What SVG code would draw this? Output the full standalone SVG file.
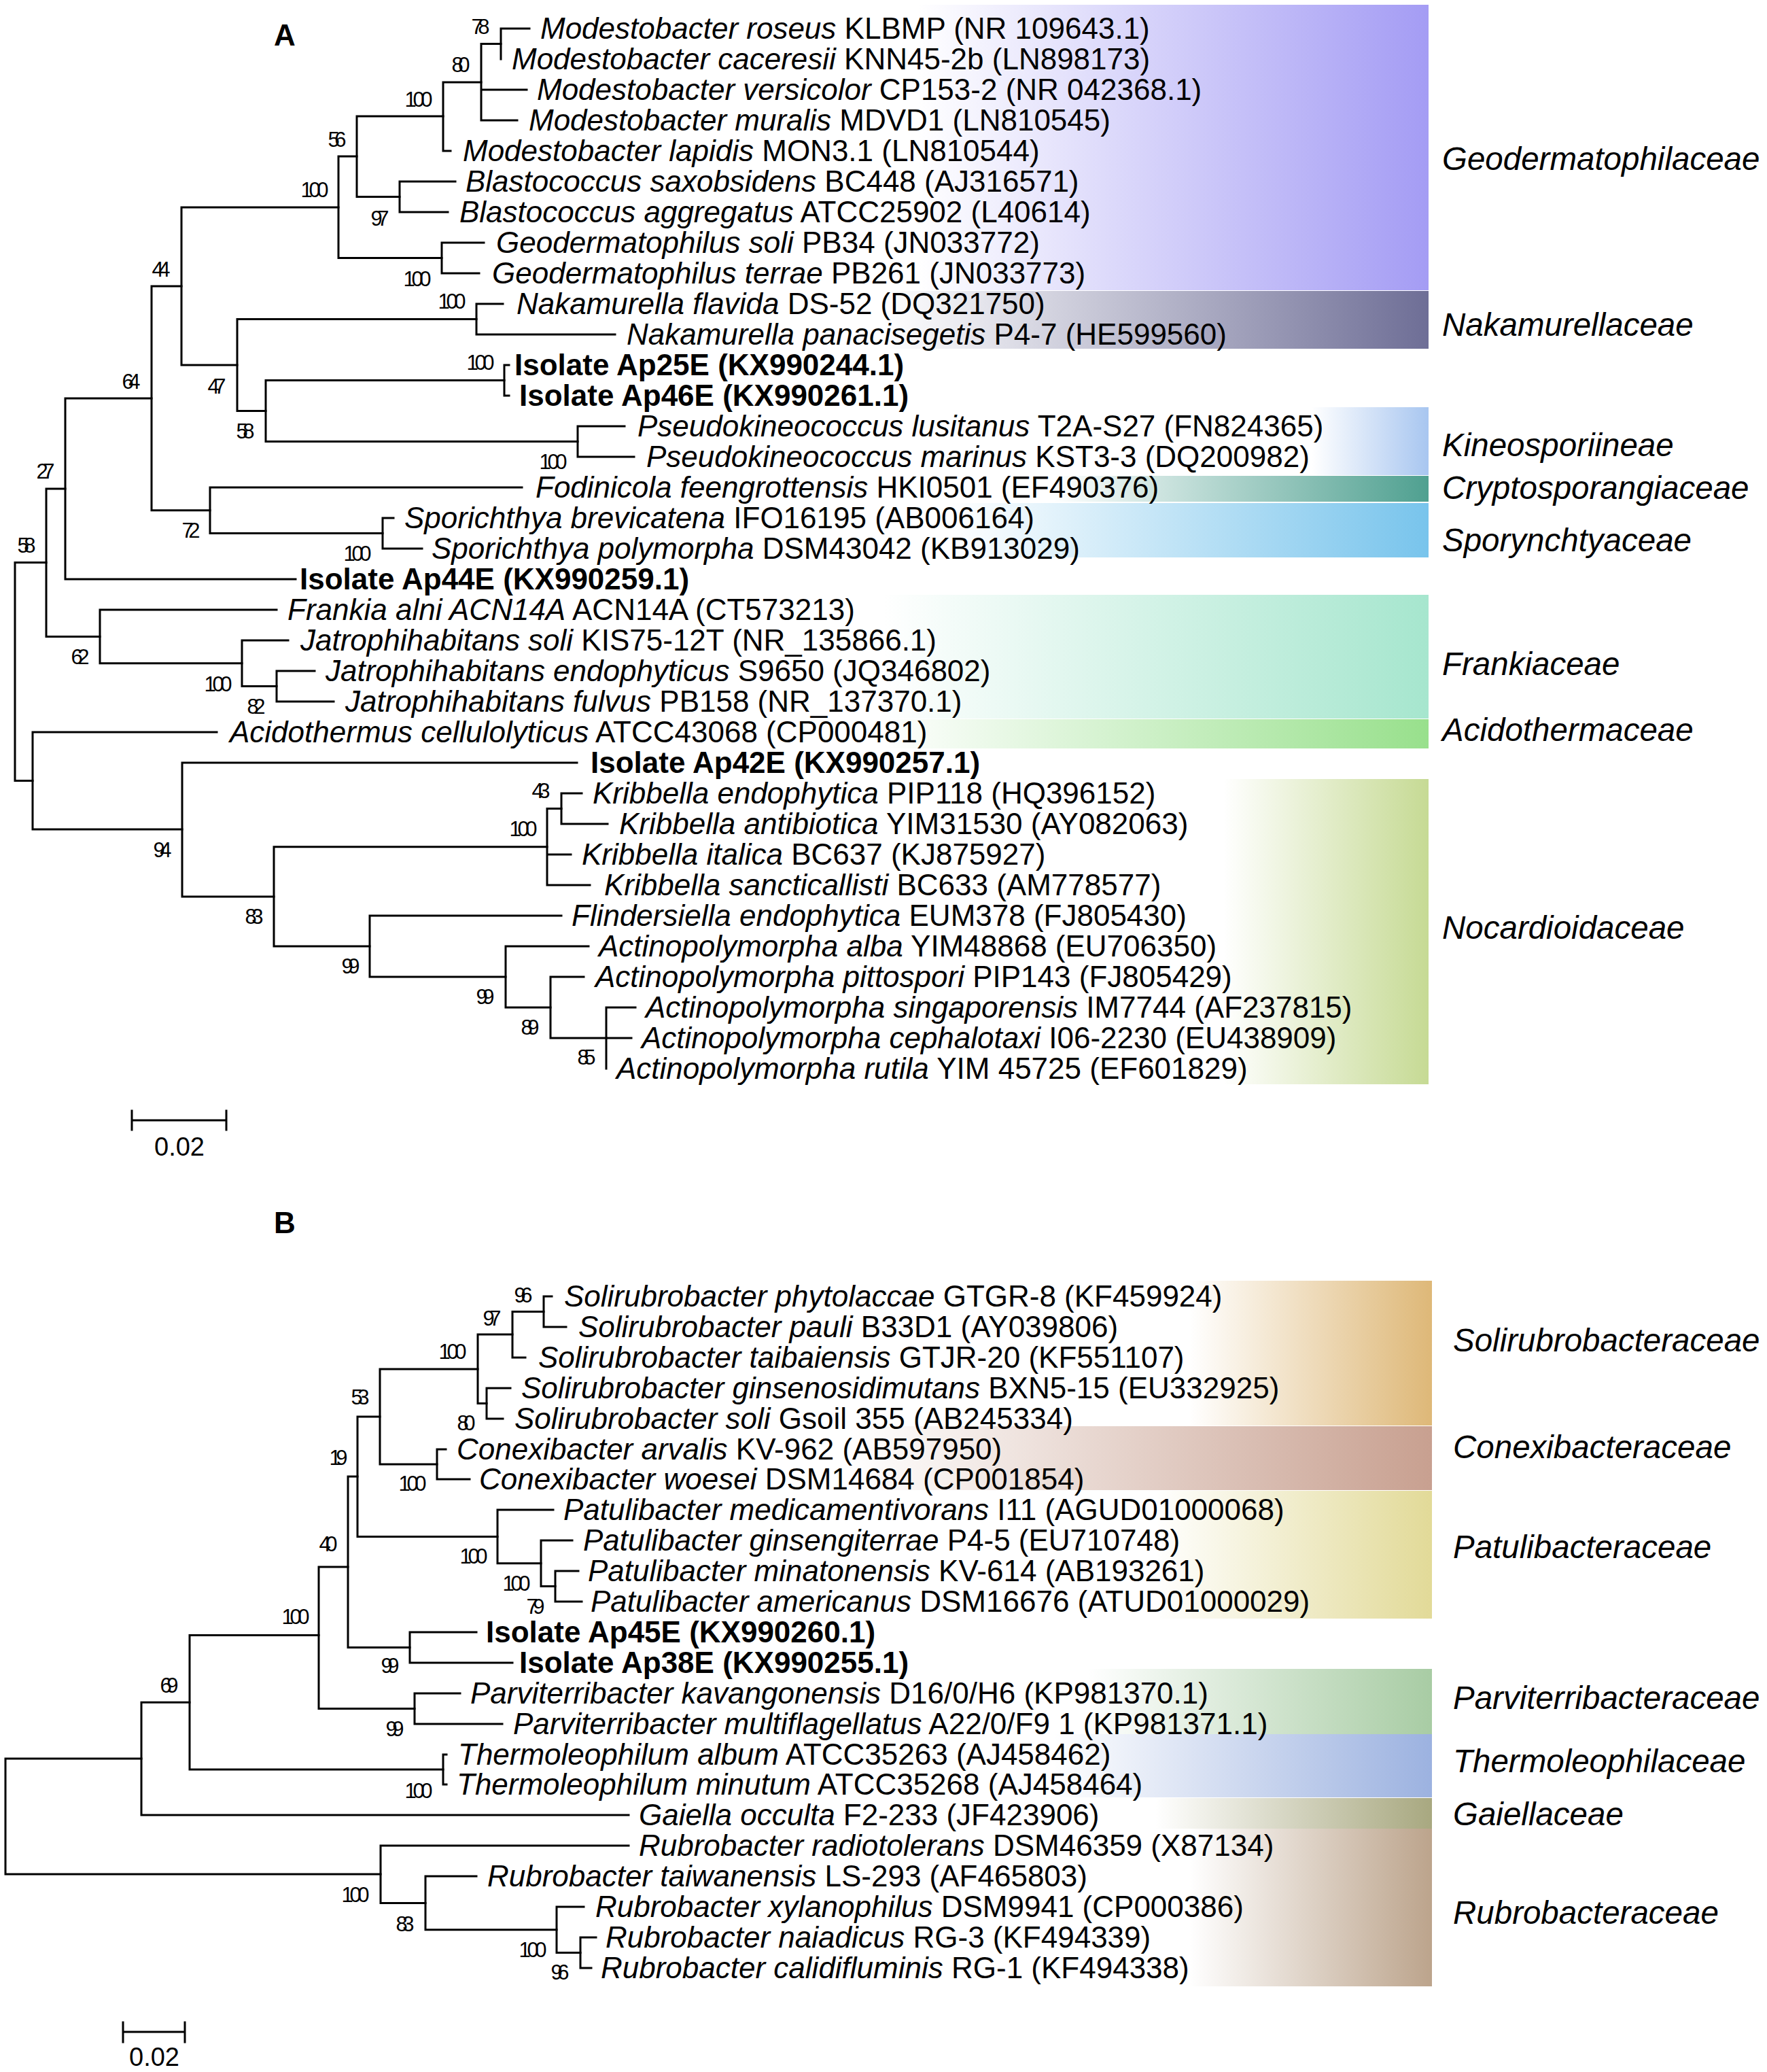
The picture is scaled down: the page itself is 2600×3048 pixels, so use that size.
<svg xmlns="http://www.w3.org/2000/svg" width="2600" height="3048" viewBox="0 0 2600 3048">
<style>
.br{stroke:#000;stroke-width:3;fill:none;stroke-linecap:square}
text{font-family:"Liberation Sans",Arial,sans-serif;fill:#000}
.lf{font-size:44px}
.it{font-style:italic}
.bd{font-weight:bold}
.bs{font-size:31px;text-anchor:middle}
.fam{font-size:47.5px;font-style:italic}
.pl{font-size:44px;font-weight:bold}
.sc{font-size:38px;text-anchor:middle}
</style>
<defs>
<linearGradient id="gGeo"><stop offset="0" stop-color="#A49CF4" stop-opacity="0"/><stop offset="1" stop-color="#A49CF4"/></linearGradient>
<linearGradient id="gNak"><stop offset="0" stop-color="#6E6E96" stop-opacity="0"/><stop offset="1" stop-color="#6E6E96"/></linearGradient>
<linearGradient id="gKin"><stop offset="0" stop-color="#A8C6F0" stop-opacity="0"/><stop offset="1" stop-color="#A8C6F0"/></linearGradient>
<linearGradient id="gCry"><stop offset="0" stop-color="#4FA090" stop-opacity="0"/><stop offset="1" stop-color="#4FA090"/></linearGradient>
<linearGradient id="gSpo"><stop offset="0" stop-color="#78C4EC" stop-opacity="0"/><stop offset="1" stop-color="#78C4EC"/></linearGradient>
<linearGradient id="gFra"><stop offset="0" stop-color="#A6E6CE" stop-opacity="0"/><stop offset="1" stop-color="#A6E6CE"/></linearGradient>
<linearGradient id="gAci"><stop offset="0" stop-color="#98E08C" stop-opacity="0"/><stop offset="1" stop-color="#98E08C"/></linearGradient>
<linearGradient id="gNoc"><stop offset="0" stop-color="#C6DA94" stop-opacity="0"/><stop offset="1" stop-color="#C6DA94"/></linearGradient>
<linearGradient id="gSol"><stop offset="0" stop-color="#DEB878" stop-opacity="0"/><stop offset="1" stop-color="#DEB878"/></linearGradient>
<linearGradient id="gCon"><stop offset="0" stop-color="#C8A090" stop-opacity="0"/><stop offset="1" stop-color="#C8A090"/></linearGradient>
<linearGradient id="gPat"><stop offset="0" stop-color="#E2DA98" stop-opacity="0"/><stop offset="1" stop-color="#E2DA98"/></linearGradient>
<linearGradient id="gPar"><stop offset="0" stop-color="#A8CCA4" stop-opacity="0"/><stop offset="1" stop-color="#A8CCA4"/></linearGradient>
<linearGradient id="gThe"><stop offset="0" stop-color="#9CB2E0" stop-opacity="0"/><stop offset="1" stop-color="#9CB2E0"/></linearGradient>
<linearGradient id="gGai"><stop offset="0" stop-color="#A8A880" stop-opacity="0"/><stop offset="1" stop-color="#A8A880"/></linearGradient>
<linearGradient id="gRub"><stop offset="0" stop-color="#BCA48C" stop-opacity="0"/><stop offset="1" stop-color="#BCA48C"/></linearGradient>
</defs>
<rect width="2600" height="3048" fill="#fff"/>

<g id="bands">
<rect x="1350" y="7" width="752" height="420" fill="url(#gGeo)"/>
<rect x="1300" y="428" width="802" height="85" fill="url(#gNak)"/>
<rect x="1930" y="599" width="172" height="100" fill="url(#gKin)"/>
<rect x="1550" y="700" width="552" height="38" fill="url(#gCry)"/>
<rect x="1400" y="740" width="702" height="80" fill="url(#gSpo)"/>
<rect x="1300" y="875" width="802" height="182" fill="url(#gFra)"/>
<rect x="1300" y="1058" width="802" height="43" fill="url(#gAci)"/>
<rect x="1800" y="1146" width="302" height="449" fill="url(#gNoc)"/>
<rect x="1750" y="1884" width="357" height="213" fill="url(#gSol)"/>
<rect x="1250" y="2098" width="857" height="94" fill="url(#gCon)"/>
<rect x="1700" y="2193" width="407" height="188" fill="url(#gPat)"/>
<rect x="1600" y="2455" width="507" height="96" fill="url(#gPar)"/>
<rect x="1550" y="2551" width="557" height="93" fill="url(#gThe)"/>
<rect x="1700" y="2645" width="407" height="45" fill="url(#gGai)"/>
<rect x="1750" y="2690" width="357" height="232" fill="url(#gRub)"/>
</g>

<g id="connectors" class="br">
<path d="M737,42 V87 M737,42 H779"/>
<path d="M708,64.5 V177 M708,64.5 H737 M708,132 H775 M708,177 H761"/>
<path d="M652,121 V222 M652,121 H708 M652,222 H663"/>
<path d="M588,267 V312 M588,267 H670 M588,312 H659"/>
<path d="M525,171 V289.5 M525,171 H652 M525,289.5 H588"/>
<path d="M650,357 V402 M650,357 H712 M650,402 H705"/>
<path d="M498,230 V379.5 M498,230 H525 M498,379.5 H650"/>
<path d="M701,447 V492 M701,447 H740 M701,492 H905"/>
<path d="M742,537 V582 M742,537 H749 M742,582 H749"/>
<path d="M850,627 V672 M850,627 H919 M850,672 H933"/>
<path d="M391,559.5 V649.5 M391,559.5 H742 M391,649.5 H850"/>
<path d="M349,469.5 V604.5 M349,469.5 H701 M349,604.5 H391"/>
<path d="M267,305 V537 M267,305 H498 M267,537 H349"/>
<path d="M563,762 V807 M563,762 H579 M563,807 H621"/>
<path d="M309,717 V784.5 M309,717 H768 M309,784.5 H563"/>
<path d="M223,421 V750.75 M223,421 H267 M223,750.75 H309"/>
<path d="M96,586 V852 M96,586 H223 M96,852 H435"/>
<path d="M407,987 V1032 M407,987 H463 M407,1032 H491"/>
<path d="M356,942 V1009.5 M356,942 H424 M356,1009.5 H407"/>
<path d="M147,897 V975.75 M147,897 H407 M147,975.75 H356"/>
<path d="M68,719 V936.4 M68,719 H96 M68,936.4 H147"/>
<path d="M826,1167 V1212 M826,1167 H856 M826,1212 H894"/>
<path d="M805,1189.5 V1302 M805,1189.5 H826 M805,1257 H840 M805,1302 H868"/>
<path d="M892,1482 V1572 M892,1482 H935 M892,1527 H929"/>
<path d="M810,1437 V1527 M810,1437 H859 M810,1527 H892"/>
<path d="M744,1392 V1482 M744,1392 H866 M744,1482 H810"/>
<path d="M544,1347 V1437 M544,1347 H826 M544,1437 H744"/>
<path d="M403,1245.75 V1392 M403,1245.75 H805 M403,1392 H544"/>
<path d="M268,1122 V1318.9 M268,1122 H849 M268,1318.9 H403"/>
<path d="M48,1077 V1220 M48,1077 H319 M48,1220 H268"/>
<path d="M22,827.6 V1148.5 M22,827.6 H68 M22,1148.5 H48"/>
<path d="M194,1648 H333 M194,1634 V1662 M333,1634 V1662"/>

<path d="M800,1907 V1952 M800,1907 H812 M800,1952 H833"/>
<path d="M754,1929.5 V1997 M754,1929.5 H800 M754,1997 H773"/>
<path d="M716,2042 V2087 M716,2042 H751 M716,2087 H740"/>
<path d="M703,1963 V2064.5 M703,1963 H754 M703,2064.5 H716"/>
<path d="M643,2132 V2176 M643,2132 H656 M643,2176 H691"/>
<path d="M559,2014 V2154 M559,2014 H703 M559,2154 H643"/>
<path d="M817,2311 V2356 M817,2311 H851 M817,2356 H856"/>
<path d="M796,2266 V2333.5 M796,2266 H842 M796,2333.5 H817"/>
<path d="M732,2221 V2299.75 M732,2221 H814 M732,2299.75 H796"/>
<path d="M526,2084 V2260.4 M526,2084 H559 M526,2260.4 H732"/>
<path d="M603,2401 V2446 M603,2401 H701 M603,2446 H754"/>
<path d="M512,2172 V2423.5 M512,2172 H526 M512,2423.5 H603"/>
<path d="M610,2491 V2536 M610,2491 H677 M610,2536 H739"/>
<path d="M469,2305 V2513.5 M469,2305 H512 M469,2513.5 H610"/>
<path d="M652,2581 V2625 M652,2581 H657 M652,2625 H657"/>
<path d="M279,2405.6 V2603 M279,2405.6 H469 M279,2603 H652"/>
<path d="M208,2504.3 V2670 M208,2504.3 H279 M208,2670 H925"/>
<path d="M854,2850 V2895 M854,2850 H877 M854,2895 H870"/>
<path d="M819,2805 V2872.5 M819,2805 H859 M819,2872.5 H854"/>
<path d="M626,2760 V2838.75 M626,2760 H701 M626,2838.75 H819"/>
<path d="M560,2715 V2799.4 M560,2715 H925 M560,2799.4 H626"/>
<path d="M8,2587 V2757 M8,2587 H208 M8,2757 H560"/>
<path d="M181,2989 H272 M181,2975 V3004 M272,2975 V3004"/>
</g>

<g id="panel-labels">
<text class="pl" x="403" y="67">A</text>
<text class="pl" x="403" y="1814">B</text>
<text class="sc" x="264" y="1700">0.02</text>
<text class="sc" x="227" y="3039">0.02</text>
</g>

<g id="bootstrap">
<g id="bsA"><text class="bs" x="707" y="50" textLength="27">78</text>
<text class="bs" x="678" y="106" textLength="27">80</text>
<text class="bs" x="616" y="157" textLength="41">100</text>
<text class="bs" x="496" y="216" textLength="27">56</text>
<text class="bs" x="463" y="290" textLength="41">100</text>
<text class="bs" x="559" y="332" textLength="27">97</text>
<text class="bs" x="614" y="421" textLength="41">100</text>
<text class="bs" x="237" y="407" textLength="27">44</text>
<text class="bs" x="665" y="454" textLength="41">100</text>
<text class="bs" x="707" y="544" textLength="41">100</text>
<text class="bs" x="319" y="579" textLength="27">47</text>
<text class="bs" x="193" y="572" textLength="27">64</text>
<text class="bs" x="361" y="645" textLength="27">58</text>
<text class="bs" x="814" y="690" textLength="41">100</text>
<text class="bs" x="67" y="704" textLength="27">27</text>
<text class="bs" x="281" y="791" textLength="27">72</text>
<text class="bs" x="39" y="813" textLength="27">58</text>
<text class="bs" x="526" y="825" textLength="41">100</text>
<text class="bs" x="118" y="977" textLength="27">62</text>
<text class="bs" x="321" y="1017" textLength="41">100</text>
<text class="bs" x="377" y="1050" textLength="27">82</text>
<text class="bs" x="239" y="1261" textLength="27">94</text>
<text class="bs" x="796" y="1174" textLength="27">43</text>
<text class="bs" x="770" y="1230" textLength="41">100</text>
<text class="bs" x="374" y="1359" textLength="27">83</text>
<text class="bs" x="516" y="1432" textLength="27">99</text>
<text class="bs" x="714" y="1477" textLength="27">99</text>
<text class="bs" x="780" y="1522" textLength="27">89</text>
<text class="bs" x="863" y="1566" textLength="27">85</text></g>
<g id="bsB"><text class="bs" x="770" y="1916" textLength="27">96</text>
<text class="bs" x="724" y="1950" textLength="27">97</text>
<text class="bs" x="666" y="1999" textLength="41">100</text>
<text class="bs" x="530" y="2066" textLength="27">53</text>
<text class="bs" x="686" y="2104" textLength="27">80</text>
<text class="bs" x="498" y="2155" textLength="27">19</text>
<text class="bs" x="607" y="2193" textLength="41">100</text>
<text class="bs" x="483" y="2282" textLength="27">40</text>
<text class="bs" x="697" y="2300" textLength="41">100</text>
<text class="bs" x="760" y="2340" textLength="41">100</text>
<text class="bs" x="788" y="2374" textLength="27">79</text>
<text class="bs" x="435" y="2389" textLength="41">100</text>
<text class="bs" x="574" y="2461" textLength="27">99</text>
<text class="bs" x="249" y="2490" textLength="27">69</text>
<text class="bs" x="581" y="2554" textLength="27">99</text>
<text class="bs" x="616" y="2645" textLength="41">100</text>
<text class="bs" x="523" y="2798" textLength="41">100</text>
<text class="bs" x="596" y="2841" textLength="27">83</text>
<text class="bs" x="784" y="2879" textLength="41">100</text>
<text class="bs" x="824" y="2912" textLength="27">96</text></g>
</g>

<g id="leavesA">
<g id="a01"><text class="lf" x="795" y="57"><tspan class="it">Modestobacter roseus</tspan> KLBMP (NR 109643.1)</text></g>
<g id="a02"><text class="lf" x="753" y="102"><tspan class="it">Modestobacter caceresii</tspan> KNN45-2b (LN898173)</text></g>
<g id="a03"><text class="lf" x="790" y="147"><tspan class="it">Modestobacter versicolor</tspan> CP153-2 (NR 042368.1)</text></g>
<g id="a04"><text class="lf" x="778" y="192"><tspan class="it">Modestobacter muralis</tspan> MDVD1 (LN810545)</text></g>
<g id="a05"><text class="lf" x="681" y="237"><tspan class="it">Modestobacter lapidis</tspan> MON3.1 (LN810544)</text></g>
<g id="a06"><text class="lf" x="685" y="282"><tspan class="it">Blastococcus saxobsidens</tspan> BC448 (AJ316571)</text></g>
<g id="a07"><text class="lf" x="676" y="327"><tspan class="it">Blastococcus aggregatus</tspan> ATCC25902 (L40614)</text></g>
<g id="a08"><text class="lf" x="730" y="372"><tspan class="it">Geodermatophilus soli</tspan> PB34 (JN033772)</text></g>
<g id="a09"><text class="lf" x="724" y="417"><tspan class="it">Geodermatophilus terrae</tspan> PB261 (JN033773)</text></g>
<g id="a10"><text class="lf" x="760" y="462"><tspan class="it">Nakamurella flavida</tspan> DS-52 (DQ321750)</text></g>
<g id="a11"><text class="lf" x="922" y="507"><tspan class="it">Nakamurella panacisegetis</tspan> P4-7 (HE599560)</text></g>
<g id="a12"><text class="lf bd" x="757" y="552">Isolate Ap25E (KX990244.1)</text></g>
<g id="a13"><text class="lf bd" x="764" y="597">Isolate Ap46E (KX990261.1)</text></g>
<g id="a14"><text class="lf" x="938" y="642"><tspan class="it">Pseudokineococcus lusitanus</tspan> T2A-S27 (FN824365)</text></g>
<g id="a15"><text class="lf" x="951" y="687"><tspan class="it">Pseudokineococcus marinus</tspan> KST3-3 (DQ200982)</text></g>
<g id="a16"><text class="lf" x="788" y="732"><tspan class="it">Fodinicola feengrottensis</tspan> HKI0501 (EF490376)</text></g>
<g id="a17"><text class="lf" x="595" y="777"><tspan class="it">Sporichthya brevicatena</tspan> IFO16195 (AB006164)</text></g>
<g id="a18"><text class="lf" x="635" y="822"><tspan class="it">Sporichthya polymorpha</tspan> DSM43042 (KB913029)</text></g>
<g id="a19"><text class="lf bd" x="441" y="867">Isolate Ap44E (KX990259.1)</text></g>
<g id="a20"><text class="lf" x="423" y="912"><tspan class="it">Frankia alni ACN14A</tspan> ACN14A (CT573213)</text></g>
<g id="a21"><text class="lf" x="442" y="957"><tspan class="it">Jatrophihabitans soli</tspan> KIS75-12T (NR_135866.1)</text></g>
<g id="a22"><text class="lf" x="479" y="1002"><tspan class="it">Jatrophihabitans endophyticus</tspan> S9650 (JQ346802)</text></g>
<g id="a23"><text class="lf" x="508" y="1047"><tspan class="it">Jatrophihabitans fulvus</tspan> PB158 (NR_137370.1)</text></g>
<g id="a24"><text class="lf" x="338" y="1092"><tspan class="it">Acidothermus cellulolyticus</tspan> ATCC43068 (CP000481)</text></g>
<g id="a25"><text class="lf bd" x="869" y="1137">Isolate Ap42E (KX990257.1)</text></g>
<g id="a26"><text class="lf" x="872" y="1182"><tspan class="it">Kribbella endophytica</tspan> PIP118 (HQ396152)</text></g>
<g id="a27"><text class="lf" x="911" y="1227"><tspan class="it">Kribbella antibiotica</tspan> YIM31530 (AY082063)</text></g>
<g id="a28"><text class="lf" x="856" y="1272"><tspan class="it">Kribbella italica</tspan> BC637 (KJ875927)</text></g>
<g id="a29"><text class="lf" x="889" y="1317"><tspan class="it">Kribbella sancticallisti</tspan> BC633 (AM778577)</text></g>
<g id="a30"><text class="lf" x="841" y="1362"><tspan class="it">Flindersiella endophytica</tspan> EUM378 (FJ805430)</text></g>
<g id="a31"><text class="lf" x="881" y="1407"><tspan class="it">Actinopolymorpha alba</tspan> YIM48868 (EU706350)</text></g>
<g id="a32"><text class="lf" x="876" y="1452"><tspan class="it">Actinopolymorpha pittospori</tspan> PIP143 (FJ805429)</text></g>
<g id="a33"><text class="lf" x="950" y="1497"><tspan class="it">Actinopolymorpha singaporensis</tspan> IM7744 (AF237815)</text></g>
<g id="a34"><text class="lf" x="944" y="1542"><tspan class="it">Actinopolymorpha cephalotaxi</tspan> I06-2230 (EU438909)</text></g>
<g id="a35"><text class="lf" x="907" y="1587"><tspan class="it">Actinopolymorpha rutila</tspan> YIM 45725 (EF601829)</text></g>
</g>

<g id="leavesB">
<g id="b01"><text class="lf" x="830" y="1922"><tspan class="it">Solirubrobacter phytolaccae</tspan> GTGR-8 (KF459924)</text></g>
<g id="b02"><text class="lf" x="851" y="1967"><tspan class="it">Solirubrobacter pauli</tspan> B33D1 (AY039806)</text></g>
<g id="b03"><text class="lf" x="792" y="2012"><tspan class="it">Solirubrobacter taibaiensis</tspan> GTJR-20 (KF551107)</text></g>
<g id="b04"><text class="lf" x="767" y="2057"><tspan class="it">Solirubrobacter ginsenosidimutans</tspan> BXN5-15 (EU332925)</text></g>
<g id="b05"><text class="lf" x="757" y="2102"><tspan class="it">Solirubrobacter soli</tspan> Gsoil 355 (AB245334)</text></g>
<g id="b06"><text class="lf" x="672" y="2147"><tspan class="it">Conexibacter arvalis</tspan> KV-962 (AB597950)</text></g>
<g id="b07"><text class="lf" x="705" y="2191"><tspan class="it">Conexibacter woesei</tspan> DSM14684 (CP001854)</text></g>
<g id="b08"><text class="lf" x="829" y="2236"><tspan class="it">Patulibacter medicamentivorans</tspan> I11 (AGUD01000068)</text></g>
<g id="b09"><text class="lf" x="858" y="2281"><tspan class="it">Patulibacter ginsengiterrae</tspan> P4-5 (EU710748)</text></g>
<g id="b10"><text class="lf" x="865" y="2326"><tspan class="it">Patulibacter minatonensis</tspan> KV-614 (AB193261)</text></g>
<g id="b11"><text class="lf" x="869" y="2371"><tspan class="it">Patulibacter americanus</tspan> DSM16676 (ATUD01000029)</text></g>
<g id="b12"><text class="lf bd" x="715" y="2416">Isolate Ap45E (KX990260.1)</text></g>
<g id="b13"><text class="lf bd" x="764" y="2461">Isolate Ap38E (KX990255.1)</text></g>
<g id="b14"><text class="lf" x="692" y="2506"><tspan class="it">Parviterribacter kavangonensis</tspan> D16/0/H6 (KP981370.1)</text></g>
<g id="b15"><text class="lf" x="755" y="2551"><tspan class="it">Parviterribacter multiflagellatus</tspan> A22/0/F9 1 (KP981371.1)</text></g>
<g id="b16"><text class="lf" x="674" y="2596"><tspan class="it">Thermoleophilum album</tspan> ATCC35263 (AJ458462)</text></g>
<g id="b17"><text class="lf" x="672" y="2640"><tspan class="it">Thermoleophilum minutum</tspan> ATCC35268 (AJ458464)</text></g>
<g id="b18"><text class="lf" x="940" y="2685"><tspan class="it">Gaiella occulta</tspan> F2-233 (JF423906)</text></g>
<g id="b19"><text class="lf" x="940" y="2730"><tspan class="it">Rubrobacter radiotolerans</tspan> DSM46359 (X87134)</text></g>
<g id="b20"><text class="lf" x="717" y="2775"><tspan class="it">Rubrobacter taiwanensis</tspan> LS-293 (AF465803)</text></g>
<g id="b21"><text class="lf" x="876" y="2820"><tspan class="it">Rubrobacter xylanophilus</tspan> DSM9941 (CP000386)</text></g>
<g id="b22"><text class="lf" x="891" y="2865"><tspan class="it">Rubrobacter naiadicus</tspan> RG-3 (KF494339)</text></g>
<g id="b23"><text class="lf" x="884" y="2910"><tspan class="it">Rubrobacter calidifluminis</tspan> RG-1 (KF494338)</text></g>
</g>

<g id="families">
<g id="fGeo"><text class="fam" x="2122" y="250">Geodermatophilaceae</text></g>
<g id="fNak"><text class="fam" x="2122" y="494">Nakamurellaceae</text></g>
<g id="fKin"><text class="fam" x="2122" y="671">Kineosporiineae</text></g>
<g id="fCry"><text class="fam" x="2122" y="734">Cryptosporangiaceae</text></g>
<g id="fSpo"><text class="fam" x="2122" y="811">Sporynchtyaceae</text></g>
<g id="fFra"><text class="fam" x="2122" y="993">Frankiaceae</text></g>
<g id="fAci"><text class="fam" x="2122" y="1090">Acidothermaceae</text></g>
<g id="fNoc"><text class="fam" x="2122" y="1381">Nocardioidaceae</text></g>
<g id="fSol"><text class="fam" x="2138" y="1988">Solirubrobacteraceae</text></g>
<g id="fCon"><text class="fam" x="2138" y="2145">Conexibacteraceae</text></g>
<g id="fPat"><text class="fam" x="2138" y="2292">Patulibacteraceae</text></g>
<g id="fPar"><text class="fam" x="2138" y="2514">Parviterribacteraceae</text></g>
<g id="fThe"><text class="fam" x="2138" y="2607">Thermoleophilaceae</text></g>
<g id="fGai"><text class="fam" x="2138" y="2685">Gaiellaceae</text></g>
<g id="fRub"><text class="fam" x="2138" y="2830">Rubrobacteraceae</text></g>
</g>
</svg>
